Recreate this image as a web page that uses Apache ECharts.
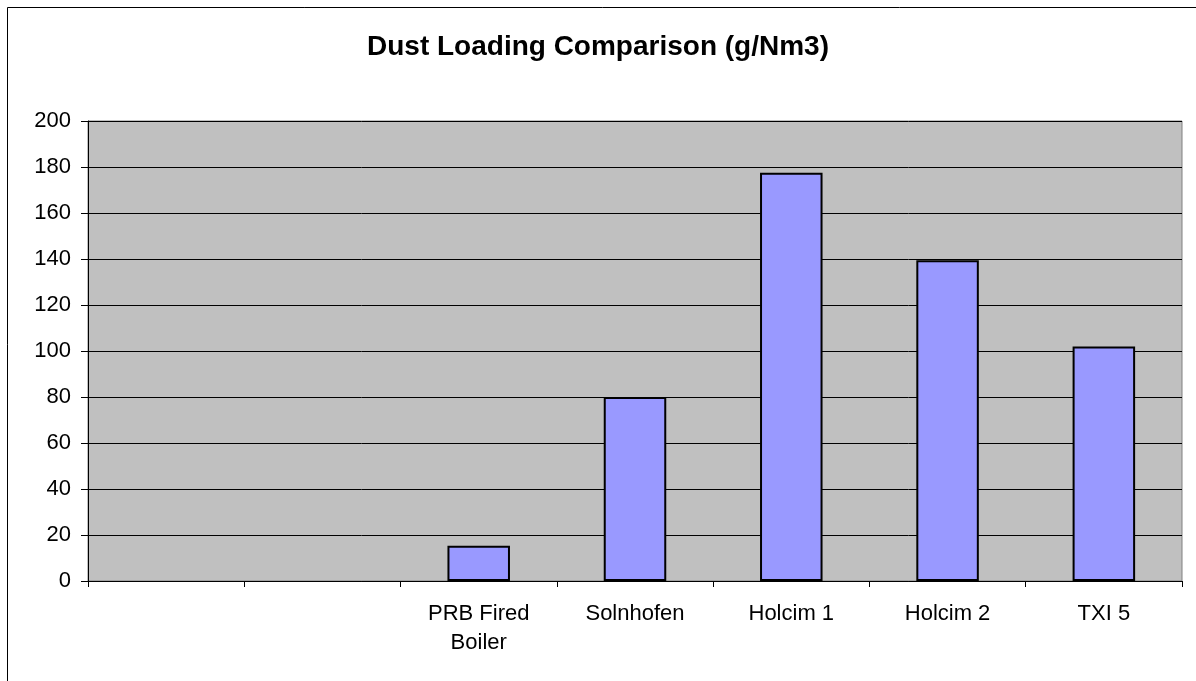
<!DOCTYPE html>
<html><head><meta charset="utf-8">
<script src="https://cdn.jsdelivr.net/npm/echarts@6/dist/echarts.min.js"></script>
<style>html,body{margin:0;padding:0;background:#fff}#c{width:1196px;height:681px}</style>
</head><body><div id="c"></div>
<script>
const titleText = 'Dust Loading Comparison (g/Nm3)';
const categories = ['', '', 'PRB Fired\nBoiler', 'Solnhofen', 'Holcim 1', 'Holcim 2', 'TXI 5'];
const dustValues = [null, null, 15.3, 80, 177.5, 139.5, 102];
const yTicks = { min: 0, max: 200, interval: 20 };

const chart = echarts.init(document.getElementById('c'));
chart.setOption({
  animation: false,
  backgroundColor: '#fff',
  title: {
    text: titleText, left: 'center', top: 28, padding: [5, 0, 5, 20],
    textStyle: { fontFamily: 'Liberation Sans, Arial', fontSize: 28, fontWeight: 'bold', color: '#000' }
  },
  graphic: [{
    type: 'rect', shape: { x: 7.5, y: 7.5, width: 1300, height: 800 },
    style: { fill: 'none', stroke: '#000', lineWidth: 1 }, silent: true
  }],
  grid: { left: 88, right: 14, top: 121, bottom: 100, show: true, backgroundColor: '#c0c0c0', borderColor: '#808080', borderWidth: 1 },
  xAxis: {
    type: 'category', data: categories,
    axisLine: { lineStyle: { color: '#000', width: 1 } },
    axisTick: { show: true, alignWithLabel: false, length: 6, lineStyle: { color: '#000' } },
    axisLabel: { interval: 0, fontFamily: 'Liberation Sans, Arial', fontSize: 22, color: '#000', margin: 18, lineHeight: 29 },
    splitLine: { show: false }
  },
  yAxis: {
    type: 'value', min: yTicks.min, max: yTicks.max, interval: yTicks.interval,
    axisLine: { show: true, lineStyle: { color: '#000', width: 1 } },
    axisTick: { show: true, length: 7, lineStyle: { color: '#000' } },
    axisLabel: { fontFamily: 'Liberation Sans, Arial', fontSize: 22, color: '#000', margin: 17 },
    splitLine: { show: true, lineStyle: { color: '#000', width: 1 } }
  },
  series: [{
    type: 'bar', data: dustValues, barWidth: '40%',
    itemStyle: { color: '#9999ff', borderColor: '#000', borderWidth: 2 }
  }]
});
</script></body></html>
